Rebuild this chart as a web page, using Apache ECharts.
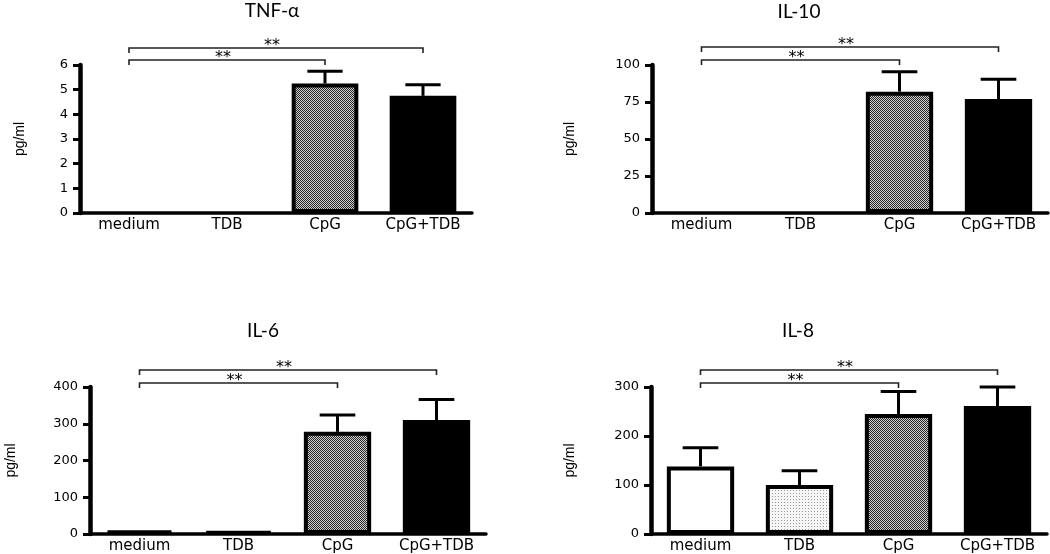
<!DOCTYPE html>
<html>
<head>
<meta charset="utf-8">
<script src="https://cdn.jsdelivr.net/npm/echarts@6/dist/echarts.min.js"></script>
<style>html,body{margin:0;padding:0;background:#fff;}#c{width:1050px;height:554px;}</style>
</head>
<body>
<div id="c"></div>
<script>
// ---- data ----
const categories = ['medium', 'TDB', 'CpG', 'CpG+TDB'];
const panelTitles = ['TNF-α', 'IL-10', 'IL-6', 'IL-8'];
const yAxisName = 'pg/ml';
const tnfMean = [0, 0, 5.25, 4.75];
const tnfUpper = [0, 0, 5.75, 5.2];
const il10Mean = [0, 0, 82, 77];
const il10Upper = [0, 0, 95.5, 90.3];
const il6Mean = [9, 7, 278, 310];
const il6Upper = [9, 7, 324, 366];
const il8Mean = [138, 100, 245, 261];
const il8Upper = [176, 129, 291, 300];
const yMaxes = [6, 100, 400, 300];
const yIntervals = [1, 25, 100, 100];
// significance brackets: [from category index, to category index]
const bracketPairs = [[0, 2], [0, 3]];
const bracketLabels = ['**', '**'];

// ---- styles ----
function makePattern(size, bg, fg, pixels) {
  const cv = document.createElement('canvas');
  cv.width = size; cv.height = size;
  const ctx = cv.getContext('2d');
  ctx.fillStyle = bg; ctx.fillRect(0, 0, size, size);
  ctx.fillStyle = fg;
  pixels.forEach(p => ctx.fillRect(p[0], p[1], 1, 1));
  return { image: cv, repeat: 'repeat' };
}
const checker = makePattern(2, '#d0d0d0', '#262626', [[0, 0], [1, 1]]);
const dots = makePattern(3, '#f6f6f6', '#9a9a9a', [[1, 1]]);
const fills = ['#ffffff', dots, checker, '#000000'];

const means = [tnfMean, il10Mean, il6Mean, il8Mean];
const uppers = [tnfUpper, il10Upper, il6Upper, il8Upper];

const grids = [
  { left: 80, top: 65, width: 392, height: 148 },
  { left: 652, top: 65, width: 396, height: 148 },
  { left: 90, top: 387, width: 396, height: 149 },
  { left: 651, top: 387, width: 396, height: 149 }
];
const nameGaps = [53, 75, 72, 74];
const titlePos = [[267, -4], [794, -3], [258, 316], [793, 316]];
const bracketOffsets = [[5, 17], [5, 18], [4, 17], [4, 17]];

const labelFont = 'DejaVu Sans';
const xAxes = [], yAxes = [], series = [], titles = [];
for (let k = 0; k < 4; k++) {
  titles.push({
    text: panelTitles[k], left: titlePos[k][0], top: titlePos[k][1], textAlign: 'center',
    textStyle: { fontFamily: 'Lato', fontSize: 19, fontWeight: 'normal', color: '#000' }
  });
  xAxes.push({
    type: 'category', gridIndex: k, data: categories,
    axisLine: { lineStyle: { color: '#000', width: 3.5 } },
    axisTick: { alignWithLabel: true, length: 5, lineStyle: { color: '#000', width: 3 } },
    axisLabel: { color: '#000', fontFamily: labelFont, fontSize: 15, margin: 5, interval: 0 },
    splitLine: { show: false }
  });
  yAxes.push({
    type: 'value', gridIndex: k, min: 0, max: yMaxes[k], interval: yIntervals[k],
    name: yAxisName, nameLocation: 'middle', nameGap: nameGaps[k],
    nameTextStyle: { color: '#000', fontFamily: 'Liberation Sans', fontSize: 14 },
    axisLine: { show: true, lineStyle: { color: '#000', width: 4.5 } },
    axisTick: { show: true, length: 7, lineStyle: { color: '#000', width: 3 } },
    axisLabel: { color: '#000', fontFamily: labelFont, fontSize: 13, margin: 12 },
    splitLine: { show: false }
  });
  series.push({
    type: 'bar', xAxisIndex: k, yAxisIndex: k, barWidth: '68%',
    data: means[k].map((v, i) => ({ value: v, itemStyle: { color: fills[i], borderWidth: v > 0 ? 4 : 0 } })),
    itemStyle: { borderColor: '#000', borderWidth: 4 },
    silent: true, animation: false
  });
  series.push({
    type: 'custom', xAxisIndex: k, yAxisIndex: k, clip: false, animation: false, silent: true, z: 5,
    data: means[k].map((v, i) => [i, v, uppers[k][i]]),
    renderItem: function (params, api) {
      const x = api.value(0), v = api.value(1), u = api.value(2);
      if (!(u > v)) return { type: 'group', children: [] };
      const p0 = api.coord([x, v]);
      const p1 = api.coord([x, u]);
      const half = api.size([1, 0])[0] * 0.18;
      return {
        type: 'group', children: [
          { type: 'line', shape: { x1: p0[0], y1: p0[1], x2: p1[0], y2: p1[1] }, style: { stroke: '#000', lineWidth: 3 } },
          { type: 'line', shape: { x1: p1[0] - half, y1: p1[1], x2: p1[0] + half, y2: p1[1] }, style: { stroke: '#000', lineWidth: 3 } }
        ]
      };
    }
  });
  const offs = bracketOffsets[k];
  const ymax = yMaxes[k];
  series.push({
    type: 'custom', xAxisIndex: k, yAxisIndex: k, clip: false, animation: false, silent: true, z: 6,
    data: bracketPairs.map((p, j) => [p[0], 0, p[1], j]),
    renderItem: function (params, api) {
      const from = api.value(0), to = api.value(2), lvl = api.value(3);
      const top = api.coord([0, ymax])[1];
      const y = top - offs[lvl];
      const x1 = api.coord([from, 0])[0];
      const x2 = api.coord([to, 0])[0];
      return {
        type: 'group', children: [
          { type: 'polyline', shape: { points: [[x1, y + 5], [x1, y], [x2, y], [x2, y + 5]] }, style: { stroke: '#222', lineWidth: 1.6, fill: null } },
          { type: 'text', x: (x1 + x2) / 2 - 4, y: y - 2, style: { text: bracketLabels[lvl], fontFamily: labelFont, fontSize: 16, fill: '#000', align: 'center', verticalAlign: 'middle' } }
        ]
      };
    }
  });
}

const chart = echarts.init(document.getElementById('c'), null, { renderer: 'canvas' });
chart.setOption({
  animation: false,
  backgroundColor: '#fff',
  title: titles,
  grid: grids,
  xAxis: xAxes,
  yAxis: yAxes,
  series: series
});
</script>
</body>
</html>
